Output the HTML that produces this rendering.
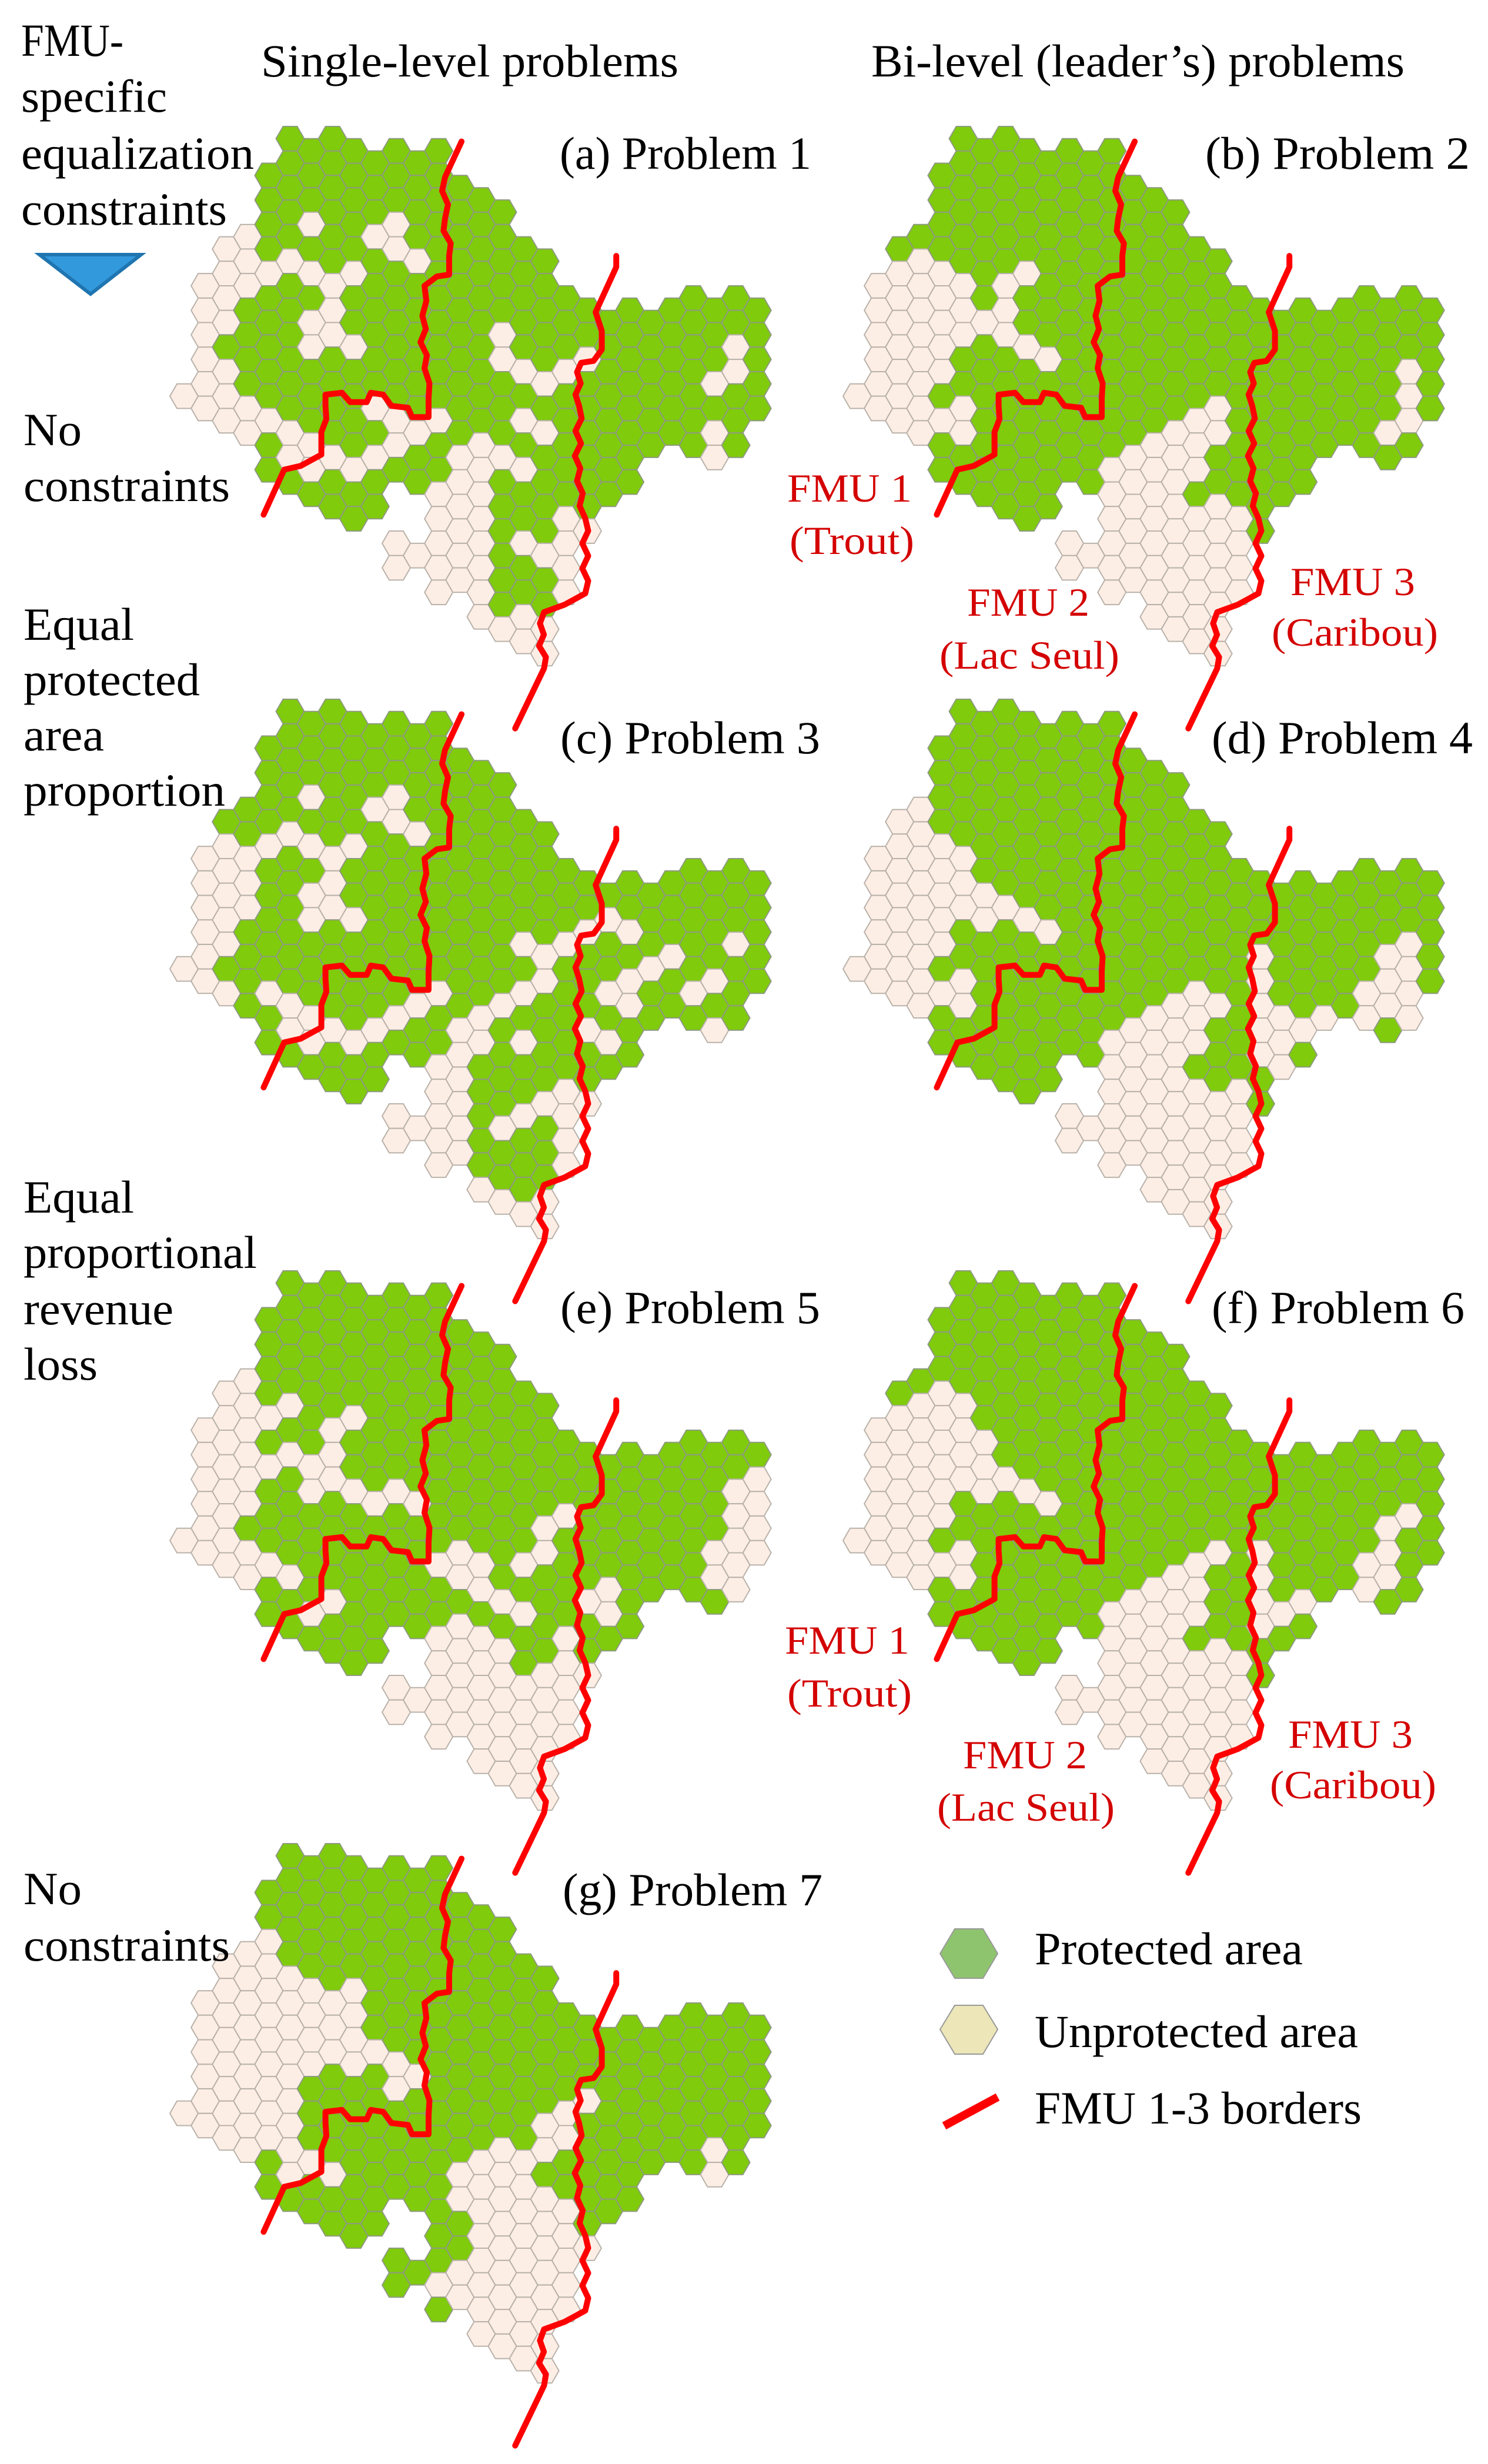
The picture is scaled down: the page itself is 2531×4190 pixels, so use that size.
<!DOCTYPE html>
<html><head><meta charset="utf-8">
<style>
html,body{margin:0;padding:0;background:#fff;}
svg{display:block;}
text{font-family:"Liberation Serif",serif;}
</style></head>
<body>
<svg id="s" xmlns="http://www.w3.org/2000/svg" width="2531" height="4190" viewBox="0 0 2531 4190">
<rect width="2531" height="4190" fill="#fff"/>
<g id="hexes"></g>
<g id="lines" fill="none" stroke="#ff0000" stroke-width="10" stroke-linejoin="round" stroke-linecap="round"></g>
<g font-size="78" fill="#000">
<text x="36" y="95" textLength="174" lengthAdjust="spacingAndGlyphs">FMU-</text>
<text x="36" y="190" textLength="248" lengthAdjust="spacingAndGlyphs">specific</text>
<text x="36" y="287" textLength="396" lengthAdjust="spacingAndGlyphs">equalization</text>
<text x="36" y="382" textLength="350" lengthAdjust="spacingAndGlyphs">constraints</text>
<text x="444" y="130" textLength="710" lengthAdjust="spacingAndGlyphs">Single-level problems</text>
<text x="1482" y="130" textLength="907" lengthAdjust="spacingAndGlyphs">Bi-level (leader’s) problems</text>
<text x="40" y="757" textLength="99" lengthAdjust="spacingAndGlyphs">No</text>
<text x="40" y="852" textLength="351" lengthAdjust="spacingAndGlyphs">constraints</text>
<text x="40" y="1088" textLength="188" lengthAdjust="spacingAndGlyphs">Equal</text>
<text x="40" y="1182" textLength="300" lengthAdjust="spacingAndGlyphs">protected</text>
<text x="40" y="1276" textLength="137" lengthAdjust="spacingAndGlyphs">area</text>
<text x="40" y="1370" textLength="343" lengthAdjust="spacingAndGlyphs">proportion</text>
<text x="40" y="2062" textLength="188" lengthAdjust="spacingAndGlyphs">Equal</text>
<text x="40" y="2156" textLength="397" lengthAdjust="spacingAndGlyphs">proportional</text>
<text x="40" y="2252" textLength="255" lengthAdjust="spacingAndGlyphs">revenue</text>
<text x="40" y="2346" textLength="126" lengthAdjust="spacingAndGlyphs">loss</text>
<text x="40" y="3238" textLength="99" lengthAdjust="spacingAndGlyphs">No</text>
<text x="40" y="3334" textLength="351" lengthAdjust="spacingAndGlyphs">constraints</text>
<text x="952" y="287" textLength="428" lengthAdjust="spacingAndGlyphs">(a) Problem 1</text>
<text x="2050" y="287" textLength="450" lengthAdjust="spacingAndGlyphs">(b) Problem 2</text>
<text x="953" y="1281" textLength="442" lengthAdjust="spacingAndGlyphs">(c) Problem 3</text>
<text x="2061" y="1281" textLength="444" lengthAdjust="spacingAndGlyphs">(d) Problem 4</text>
<text x="953" y="2250" textLength="442" lengthAdjust="spacingAndGlyphs">(e) Problem 5</text>
<text x="2061" y="2250" textLength="430" lengthAdjust="spacingAndGlyphs">(f) Problem 6</text>
<text x="957" y="3240" textLength="442" lengthAdjust="spacingAndGlyphs">(g) Problem 7</text>
<text x="1760" y="3340" textLength="456" lengthAdjust="spacingAndGlyphs">Protected area</text>
<text x="1760" y="3481" textLength="550" lengthAdjust="spacingAndGlyphs">Unprotected area</text>
<text x="1760" y="3611" textLength="556" lengthAdjust="spacingAndGlyphs">FMU 1-3 borders</text>
</g>
<g font-size="68" fill="#d40000">
<text x="1339" y="853" textLength="212" lengthAdjust="spacingAndGlyphs">FMU 1</text>
<text x="1343" y="942" textLength="212" lengthAdjust="spacingAndGlyphs">(Trout)</text>
<text x="1645" y="1047" textLength="208" lengthAdjust="spacingAndGlyphs">FMU 2</text>
<text x="1598" y="1137" textLength="306" lengthAdjust="spacingAndGlyphs">(Lac Seul)</text>
<text x="2195" y="1012" textLength="212" lengthAdjust="spacingAndGlyphs">FMU 3</text>
<text x="2163" y="1098" textLength="283" lengthAdjust="spacingAndGlyphs">(Caribou)</text>
<text x="1335" y="2812" textLength="212" lengthAdjust="spacingAndGlyphs">FMU 1</text>
<text x="1339" y="2902" textLength="212" lengthAdjust="spacingAndGlyphs">(Trout)</text>
<text x="1638" y="3007" textLength="211" lengthAdjust="spacingAndGlyphs">FMU 2</text>
<text x="1594" y="3096" textLength="302" lengthAdjust="spacingAndGlyphs">(Lac Seul)</text>
<text x="2191" y="2972" textLength="212" lengthAdjust="spacingAndGlyphs">FMU 3</text>
<text x="2160" y="3058" textLength="283" lengthAdjust="spacingAndGlyphs">(Caribou)</text>
</g>
<polygon points="67,433 240,433 154,500" fill="#3399dd" stroke="#1f75b0" stroke-width="6" stroke-linejoin="miter"/>
<polygon points="1599,3322 1624,3280 1672,3280 1697,3322 1672,3364 1624,3364" fill="#8fc46f" stroke="#999" stroke-width="2"/>
<polygon points="1599,3451 1624,3410 1672,3410 1697,3451 1672,3493 1624,3493" fill="#ece6b8" stroke="#999" stroke-width="2"/>
<line x1="1606" y1="3615" x2="1697" y2="3566" stroke="#ff0000" stroke-width="14"/>
</svg>
<script>
(function(){
function inPoly(x,y,p){var c=false;for(var i=0,j=p.length-1;i<p.length;j=i++){var xi=p[i][0],yi=p[i][1],xj=p[j][0],yj=p[j][1];if(((yi>y)!=(yj>y))&&(x<(xj-xi)*(y-yi)/(yj-yi)+xi))c=!c;}return c;}
var mask=[[265,75],[290,45],[320,75],[680,110],[700,160],[780,200],[840,290],[890,390],[945,430],[1000,490],[1050,520],[1200,540],[1250,510],[1400,510],[1460,560],[1465,780],[1420,870],[1365,935],[1310,940],[1255,900],[1200,935],[1150,970],[1100,1045],[1030,1040],[1020,1300],[960,1380],[920,1480],[880,1490],[810,1450],[760,1350],[650,1290],[600,1250],[545,1240],[560,1160],[640,1140],[640,1040],[560,1010],[470,1125],[340,1040],[240,1000],[180,900],[120,870],[20,800],[20,740],[70,710],[65,445],[120,420],[165,310],[215,275],[215,210],[265,145]];
var A=1.4255,B=1.274;
var panels=[
{dx:0,dy:0,ox:280,oy:180,s:A,
 polys:[
 [[15,780],[20,740],[65,705],[65,445],[115,415],[165,310],[230,330],[235,470],[185,500],[180,600],[120,600],[120,680],[180,690],[180,790],[240,810],[240,860],[180,900],[120,875]],
 [[230,820],[330,830],[410,880],[410,950],[330,990],[280,960],[280,900],[230,880]],
 [[480,1300],[520,1140],[640,1140],[650,990],[760,960],[800,1000],[800,1350],[960,1330],[960,1060],[1010,1040],[1060,1300],[1000,1600],[760,1600],[700,1400]]
 ],
 pts:[[350,310],[300,405],[350,440],[250,440],[400,470],[455,435],[500,340],[550,300],[550,355],[600,395],[400,535],[350,570],[400,600],[350,635],[455,630],[815,590],[815,650],[865,690],[920,710],[970,680],[1020,650],[920,770],[870,820],[920,850],[770,880],[720,920],[820,920],[870,950],[510,800],[560,835],[610,850],[665,830],[560,880],[510,920],[460,950],[410,920],[360,960],[870,1150],[920,1190],[1380,670],[1380,740],[1330,770],[1330,840],[1330,905]]},
{dx:1145,dy:0,ox:1300,oy:180,s:B,
 polys:[
 [[175,780],[215,465],[265,420],[320,390],[360,390],[410,430],[450,460],[450,520],[500,530],[545,610],[600,640],[640,680],[600,700],[540,680],[490,620],[460,610],[400,640],[400,740],[350,780],[360,800],[420,780],[460,800],[460,900],[400,880],[360,900],[270,880],[220,830]],
 [[580,1240],[620,1130],[700,1130],[730,1000],[780,920],[830,870],[870,830],[940,790],[980,760],[1010,800],[1000,880],[960,900],[960,980],[910,1010],[910,1040],[1050,1040],[1090,1330],[1010,1420],[1010,1600],[860,1600],[700,1400]],
 [[1320,850],[1370,800],[1370,660],[1410,660],[1410,760],[1420,830],[1400,900],[1340,940]]
 ],
 pts:[[510,460],[565,440],[515,540]]},
{dx:0,dy:974,ox:280,oy:1160,s:A,
 polys:[
 [[15,770],[70,730],[65,440],[120,410],[170,400],[230,430],[230,620],[180,640],[175,700],[120,700],[125,740],[175,800],[230,830],[175,880],[120,830],[20,800]],
 [[480,1300],[520,1140],[640,1140],[650,990],[740,1000],[720,1130],[760,1300],[800,1360],[900,1370],[960,1330],[960,1060],[1010,1040],[1060,1300],[1000,1600],[760,1600],[700,1400]]
 ],
 pts:[[350,300],[300,400],[250,430],[350,430],[400,460],[455,440],[500,330],[550,295],[550,360],[605,390],[350,560],[400,590],[350,630],[455,620],[400,530],[870,680],[920,710],[970,680],[1020,640],[920,770],[870,800],[820,880],[770,880],[720,920],[770,960],[720,990],[870,940],[1070,660],[1125,640],[1070,800],[1120,770],[1170,740],[1230,760],[1280,800],[1330,770],[1330,830],[1070,860],[1125,880],[1080,930],[1030,900],[1380,670],[1380,730],[1330,900],[250,830],[300,860],[350,880],[305,920],[355,960],[415,920],[470,950],[520,920],[560,880],[610,850],[660,820],[820,1170],[870,1130],[920,1100]]},
{dx:1145,dy:974,ox:1300,oy:1160,s:B,
 polys:[
 [[165,770],[210,440],[260,410],[300,320],[350,310],[360,400],[410,430],[450,460],[450,520],[500,510],[540,600],[590,630],[630,660],[600,690],[540,650],[490,640],[450,660],[400,640],[400,730],[350,740],[350,780],[400,770],[450,780],[450,890],[400,890],[350,870],[310,880],[260,840]],
 [[580,1240],[620,1130],[700,1130],[720,1000],[780,900],[830,860],[880,820],[910,790],[960,800],[1000,840],[1000,880],[950,880],[950,970],[910,990],[910,1040],[960,1040],[960,1100],[1000,1070],[1050,1040],[1090,1330],[1010,1420],[1010,1600],[860,1600],[700,1400]],
 [[1040,700],[1080,700],[1090,850],[1140,900],[1200,900],[1250,870],[1300,840],[1320,750],[1370,640],[1410,650],[1410,780],[1420,850],[1400,900],[1340,930],[1200,960],[1160,980],[1120,1030],[1080,1040],[1050,1000]]
 ],pts:[]},
{dx:0,dy:1946,ox:280,oy:2130,s:A,
 polys:[
 [[15,770],[65,730],[65,440],[120,410],[165,310],[220,320],[220,440],[280,400],[320,380],[330,420],[270,460],[230,500],[230,550],[280,560],[300,600],[230,640],[230,700],[175,720],[180,780],[240,800],[280,830],[340,860],[330,900],[280,930],[230,870],[175,870],[120,830],[20,800]],
 [[480,1300],[520,1140],[640,1140],[650,990],[760,970],[820,1000],[860,950],[860,1020],[800,1130],[860,1120],[960,1050],[960,990],[1010,980],[1060,1300],[1000,1600],[760,1600],[700,1400]],
 [[1410,540],[1460,560],[1465,780],[1420,870],[1365,935],[1300,900],[1310,820],[1350,760],[1350,640],[1400,620]]
 ],
 pts:[[450,430],[400,460],[400,530],[300,530],[350,560],[400,600],[350,630],[455,620],[500,650],[555,620],[605,650],[355,960],[410,920],[970,680],[920,710],[920,770],[720,790],[670,820],[770,820],[870,810],[720,880],[770,880],[820,910],[870,940],[1070,880],[1030,920],[1080,940]]},
{dx:1145,dy:1946,ox:1300,oy:2130,s:B,
 polys:[
 [[170,780],[210,440],[260,410],[320,370],[360,370],[410,370],[450,400],[450,500],[500,500],[540,600],[590,630],[630,660],[600,690],[540,650],[490,630],[450,660],[400,680],[400,730],[350,740],[350,780],[400,770],[450,780],[450,890],[400,890],[350,870],[310,880],[260,840]],
 [[580,1240],[620,1130],[700,1130],[720,1000],[780,900],[830,860],[880,820],[940,780],[1000,760],[1010,840],[960,880],[960,970],[910,990],[910,1040],[1050,1040],[1090,1330],[1010,1420],[1010,1600],[860,1600],[700,1400]],
 [[1050,760],[1080,760],[1090,880],[1140,920],[1200,920],[1250,880],[1300,840],[1320,760],[1370,700],[1370,640],[1410,650],[1410,720],[1360,770],[1360,840],[1340,930],[1200,960],[1160,980],[1120,1030],[1080,1040],[1050,1000]]
 ],pts:[]},
{dx:0,dy:2920,ox:280,oy:3110,s:A,
 polys:[
 [[25,760],[75,730],[75,440],[130,400],[175,310],[230,270],[280,300],[280,360],[330,380],[380,400],[430,400],[480,430],[480,500],[530,560],[590,600],[630,630],[630,680],[570,710],[530,660],[480,660],[430,640],[380,650],[330,680],[330,750],[350,760],[350,820],[320,870],[380,880],[440,910],[410,940],[330,940],[280,920],[240,860],[180,860],[130,830],[30,800]],
 [[650,1220],[700,1180],[760,1110],[760,1050],[700,1000],[700,880],[760,840],[820,810],[880,840],[900,780],[960,720],[1000,700],[1050,700],[1050,740],[1000,760],[1000,880],[950,880],[900,900],[900,930],[960,960],[1010,980],[1060,1300],[1000,1600],[760,1600],[700,1400]]
 ],
 pts:[[1340,830],[1340,890]]}
];
var g=document.getElementById("hexes");
var R=24,H=20.85,out=[];
function hexPts(x,y){return [[x-R,y],[x-R/2,y-H],[x+R/2,y-H],[x+R,y],[x+R/2,y+H],[x-R/2,y+H]].map(function(p){return p[0].toFixed(1)+","+p[1].toFixed(1);}).join(" ");}
panels.forEach(function(P){
  var cells=[];
  for(var k=0;k<28;k++){for(var r=-2;r<30;r++){
    var lx=313+36.1*k, ly=194.1+41.7*r+(k%2==0?20.85:0);
    var mzx=(lx-280)*A, mzy=(ly-180)*1.568;
    if(!inPoly(mzx,mzy,mask))continue;
    var X=lx+P.dx, Y=ly+P.dy;
    var zx=(X-P.ox)*P.s, zy=(Y-P.oy)*1.568;
    var w=false;
    for(var i=0;i<P.polys.length;i++){if(inPoly(zx,zy,P.polys[i])){w=true;break;}}
    cells.push({X:X,Y:Y,w:w});
  }}
  P.pts.forEach(function(pt){
    var X=P.ox+pt[0]/P.s, Y=P.oy+pt[1]/1.568, best=null,bd=1e9;
    cells.forEach(function(c){var d=(c.X-X)*(c.X-X)+(c.Y-Y)*(c.Y-Y);if(d<bd){bd=d;best=c;}});
    if(best&&bd<900)best.w=true;
  });
  cells.forEach(function(c){
    out.push('<polygon points="'+hexPts(c.X,c.Y)+'" fill="'+(c.w?'#fdeee5':'#7fcb0c')+'" stroke="'+(c.w?'#b9b2aa':'#8f9a80')+'" stroke-width="2"/>');
  });
});
g.innerHTML=out.join("");
var L1=[[240,1090],[290,970],[330,960],[380,930],[380,870],[390,800],[390,770],[430,765],[450,790],[490,790],[500,765],[530,770],[550,800],[590,805],[600,830],[640,830],[640,780],[630,700],[625,560],[630,480],[660,455],[690,450],[690,400],[680,300],[680,190],[720,95]];
var L2=[[1095,400],[1095,430],[1045,550],[1060,600],[1060,650],[1040,680],[1010,685],[1000,710],[1005,800],[1000,1000],[1020,1100],[1020,1300],[970,1330],[920,1350],[910,1380],[920,1500],[850,1660]];
function build(L,dx,dy){
  var p=L.map(function(q){return [280+q[0]/A+dx,180+q[1]/1.568+dy];});
  var res=[p[0]];
  for(var i=1;i<p.length;i++){
    var a=p[i-1],b=p[i],ddx=b[0]-a[0],ddy=b[1]-a[1],len=Math.sqrt(ddx*ddx+ddy*ddy);
    if(Math.abs(ddx)<Math.abs(ddy)/3&&len>40){
      var n=Math.max(2,Math.round(len/20.85));
      for(var j=1;j<n;j++){var t=j/n;res.push([a[0]+ddx*t+(j%2?5:-5),a[1]+ddy*t]);}
    }
    res.push(b);
  }
  return res.map(function(q){return q[0].toFixed(1)+","+q[1].toFixed(1);}).join(" ");
}
var lg=document.getElementById("lines"),lo=[];
panels.forEach(function(P){
  lo.push('<polyline points="'+build(L1,P.dx,P.dy)+'"/>');
  lo.push('<polyline points="'+build(L2,P.dx,P.dy)+'"/>');
});
lg.innerHTML=lo.join("");
})();
</script>
</body></html>
